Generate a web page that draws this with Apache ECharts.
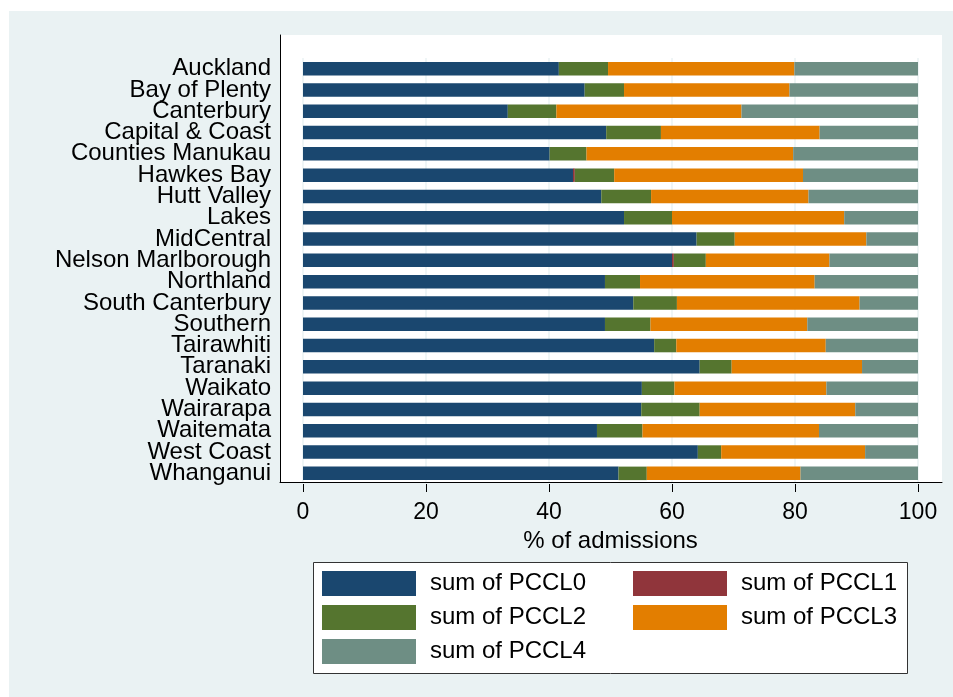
<!DOCTYPE html>
<html><head><meta charset="utf-8">
<script src="https://cdn.jsdelivr.net/npm/echarts@6/dist/echarts.min.js"></script>
<style>html,body{margin:0;padding:0;background:#fff}#c{width:953px;height:697px}</style>
</head><body><div id="c"></div>
<script>
const categories = ["Auckland","Bay of Plenty","Canterbury","Capital & Coast","Counties Manukau","Hawkes Bay","Hutt Valley","Lakes","MidCentral","Nelson Marlborough","Northland","South Canterbury","Southern","Tairawhiti","Taranaki","Waikato","Wairarapa","Waitemata","West Coast","Whanganui"];
const pccl0 = [41.6,45.8,33.3,49.3,40.1,43.9,48.5,52.2,64.0,60.0,49.1,53.7,49.1,57.1,64.5,55.1,55.0,47.8,64.2,51.3];
const pccl1 = [0,0,0,0,0,0.3,0,0,0,0.3,0,0,0,0,0,0,0,0,0,0];
const pccl2 = [8.0,6.4,7.9,8.9,6.0,6.4,8.1,7.8,6.2,5.2,5.7,7.1,7.4,3.6,5.2,5.3,9.5,7.4,3.8,4.6];
const pccl3 = [30.3,26.9,30.1,25.8,33.6,30.7,25.6,28.0,21.4,20.1,28.4,29.7,25.5,24.3,21.2,24.7,25.3,28.7,23.4,25.0];
const pccl4 = [20.1,20.9,28.7,16.0,20.3,18.7,17.8,12.0,8.4,14.4,16.8,9.5,18.0,15.0,9.1,14.9,10.2,16.1,8.6,19.1];
const xTicks = [0,20,40,60,80,100];
const seriesNames = ["sum of PCCL0","sum of PCCL1","sum of PCCL2","sum of PCCL3","sum of PCCL4"];
const colors = ["#1A476F","#90353B","#55752F","#E37E00","#6E8E84"];
const values = [pccl0,pccl1,pccl2,pccl3,pccl4];

const FONT = "'Liberation Sans', Helvetica, Arial, sans-serif";
const chart = echarts.init(document.getElementById('c'), null, {renderer:'canvas'});
const legendCommon = {
  orient:'vertical', itemWidth:94, itemHeight:25, itemGap:9, icon:'rect', padding:0,
  textStyle:{fontFamily:FONT, fontSize:24, color:'#000', padding:[0,0,0,9]}, selectedMode:false
};
chart.setOption({
  backgroundColor:'#EAF2F3',
  animation:false,
  textStyle:{fontFamily:FONT},
  graphic:[
    {type:'rect', shape:{x:0,y:0,width:953,height:11}, style:{fill:'#fff'}, z:1, silent:true},
    {type:'rect', shape:{x:0,y:0,width:9,height:697}, style:{fill:'#fff'}, z:1, silent:true},
    {type:'rect', shape:{x:313.5,y:562.5,width:594,height:111}, style:{fill:'#fff', stroke:'#333', lineWidth:1}, z:1, silent:true}
  ],
  legend:[
    Object.assign({left:322, top:571, data:[seriesNames[0],seriesNames[2],seriesNames[4]]}, legendCommon),
    Object.assign({left:633, top:571, data:[seriesNames[1],seriesNames[3]]}, legendCommon)
  ],
  grid:[
    {left:280, right:11, top:35, bottom:215, show:true, backgroundColor:'#fff', borderWidth:0, z:0},
    {left:303, right:35, top:58, bottom:213}
  ],
  xAxis:[
    {gridIndex:0, type:'value', min:0, max:1, axisLine:{show:true, lineStyle:{color:'#000', width:1}}, axisTick:{show:false}, axisLabel:{show:false}, splitLine:{show:false}},
    {gridIndex:1, type:'value', min:xTicks[0], max:xTicks[xTicks.length-1], interval:20,
     axisLine:{show:false}, axisTick:{show:true, length:8, lineStyle:{color:'#000'}},
     axisLabel:{fontSize:23, color:'#000', margin:17, fontFamily:FONT},
     splitLine:{show:true, lineStyle:{color:'#EAF2F3', width:1.5}},
     name:'% of admissions', nameLocation:'middle', nameGap:40,
     nameTextStyle:{fontSize:24, color:'#000', fontFamily:FONT}}
  ],
  yAxis:[
    {gridIndex:0, type:'value', min:0, max:1, axisLine:{show:true, lineStyle:{color:'#000', width:1}}, axisTick:{show:false}, axisLabel:{show:false}, splitLine:{show:false}},
    {gridIndex:1, type:'category', data:categories, inverse:true,
     axisLine:{show:false}, axisTick:{show:false},
     axisLabel:{interval:0, fontSize:24, color:'#000', margin:32, fontFamily:FONT, padding:[13,0,0,0]}}
  ],
  series: seriesNames.map((n,i)=>({
    name:n, type:'bar', stack:'total', xAxisIndex:1, yAxisIndex:1,
    data:values[i], barWidth:13.5, itemStyle:{color:colors[i]}
  }))
});
</script></body></html>
